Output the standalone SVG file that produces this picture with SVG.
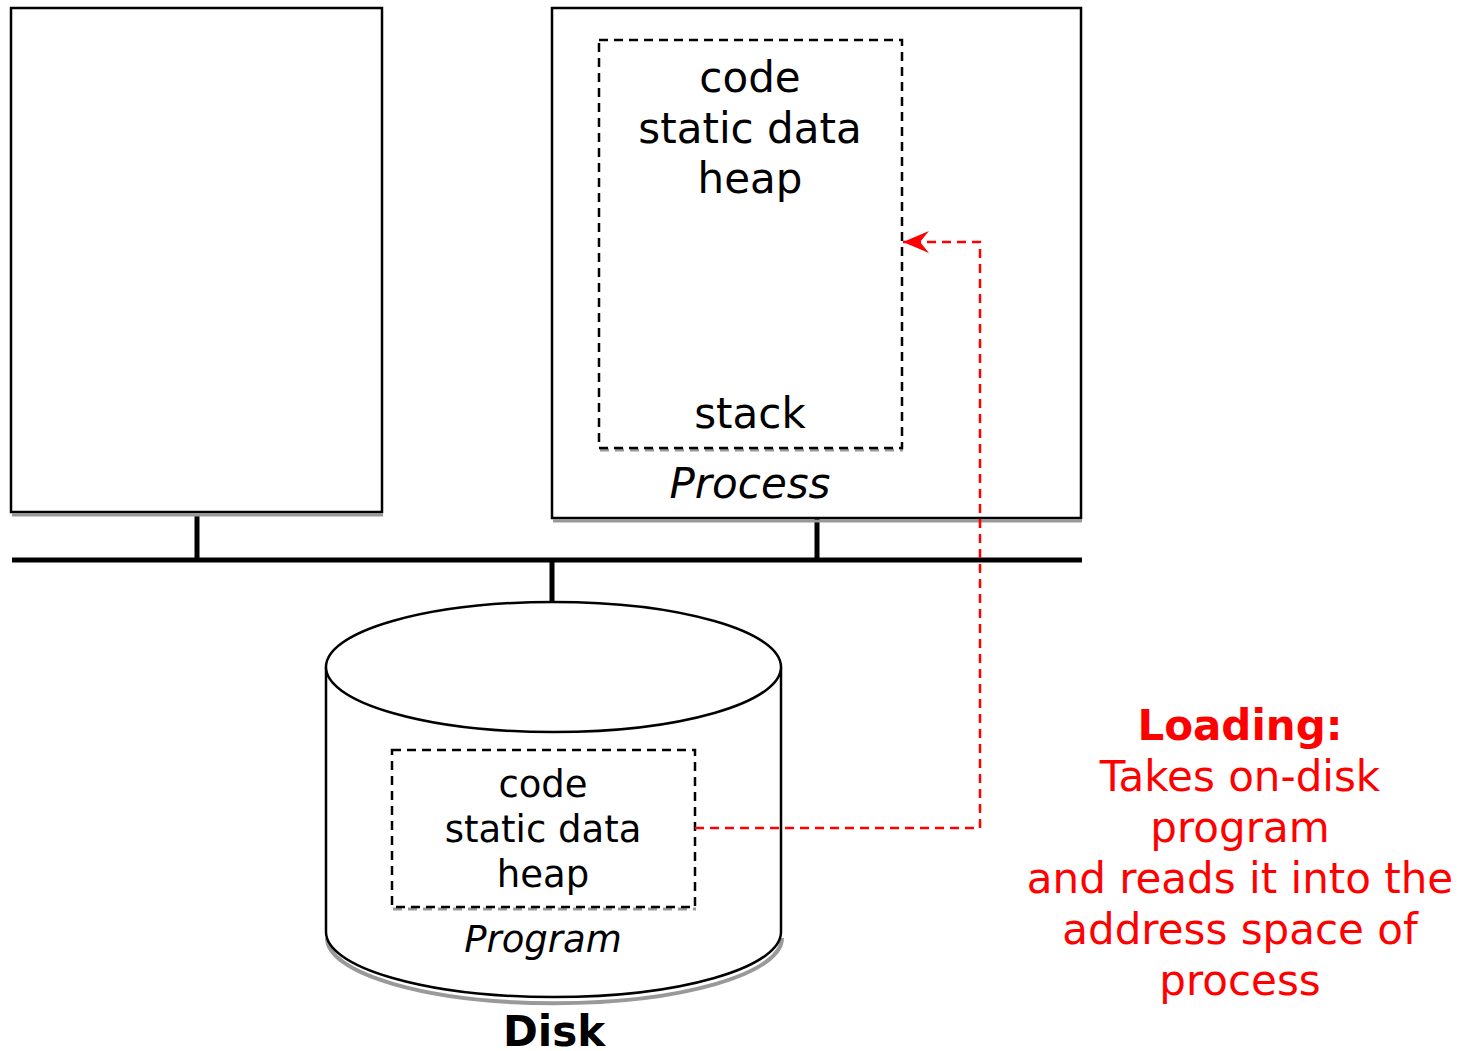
<svg xmlns="http://www.w3.org/2000/svg" width="1462" height="1051" viewBox="0 0 1462 1051">
<style>
.box{fill:#fff;stroke:#000;stroke-width:2.5}
.shadow{fill:none;stroke:#999;stroke-width:3}
.dash{fill:none;stroke:#000;stroke-width:2.5;stroke-dasharray:9 6}
.bus{stroke:#000;stroke-width:5;fill:none}
.t{font-family:"DejaVu Sans",sans-serif;text-anchor:middle;fill:#000}
.red{fill:#f00}
</style>
<defs>
<marker id="arr" viewBox="0 0 30 24" refX="28" refY="12" markerWidth="30" markerHeight="24" markerUnits="userSpaceOnUse" orient="auto">
<path d="M28,12 L2,1 L11,12 L2,23 Z" fill="#f00"/>
</marker>
</defs>
<rect width="1462" height="1051" fill="#fff"/>
<g id="bus">
<line class="bus" x1="12" y1="560" x2="1082" y2="560"/>
<line class="bus" x1="197" y1="514" x2="197" y2="558"/>
<line class="bus" x1="817" y1="519" x2="817" y2="558"/>
<line class="bus" x1="552" y1="560" x2="552" y2="602"/>
</g>
<g id="cpu-left">
<path class="shadow" d="M12,515 H383"/>
<rect class="box" x="11" y="8" width="371" height="504"/>
</g>
<g id="process">
<path class="shadow" d="M553,521 H1082"/>
<rect class="box" x="552" y="8" width="529" height="510"/>
<g id="process-mem">
<path class="shadow" d="M600,450 H903" stroke-dasharray="9 6"/>
<rect class="dash" x="599" y="40" width="303" height="408"/>
<text class="t" x="750" y="92" font-size="42">code</text>
<text class="t" x="750" y="143" font-size="42">static data</text>
<text class="t" x="750" y="193" font-size="42">heap</text>
<text class="t" x="750" y="428" font-size="42">stack</text>
</g>
<text class="t" x="750" y="498" font-size="42" font-style="italic">Process</text>
</g>
<g id="disk">
<path d="M327,935 A227,65 0 0 0 782,935" fill="none" stroke="#999" stroke-width="4" transform="translate(0,3)"/>
<path d="M326,667 V932 A227.5,65 0 0 0 781,932 V667" fill="#fff" stroke="#000" stroke-width="2.5"/>
<ellipse cx="553.5" cy="667" rx="227.5" ry="65" fill="#fff" stroke="#000" stroke-width="2.5"/>
<g id="program">
<path class="shadow" d="M393,909 H696" stroke-dasharray="9 6"/>
<rect class="dash" x="392" y="750" width="303" height="157"/>
<text class="t" x="543" y="797" font-size="37">code</text>
<text class="t" x="543" y="842" font-size="37">static data</text>
<text class="t" x="543" y="887" font-size="37">heap</text>
</g>
<text class="t" x="543" y="952" font-size="37" font-style="italic">Program</text>
<text class="t" x="554" y="1046" font-size="42" font-weight="bold">Disk</text>
</g>
<g id="connectors">
<path d="M695,828 H980 V242 H903" fill="none" stroke="#f00" stroke-width="2.5" stroke-dasharray="9 6" marker-end="url(#arr)"/>
</g>
<g id="loading-note">
<text class="t red" x="1240" y="740" font-size="42" font-weight="bold">Loading:</text>
<text class="t red" x="1240" y="791" font-size="42">Takes on-disk</text>
<text class="t red" x="1240" y="842" font-size="42">program</text>
<text class="t red" x="1240" y="893" font-size="42">and reads it into the</text>
<text class="t red" x="1240" y="944" font-size="42">address space of</text>
<text class="t red" x="1240" y="995" font-size="42">process</text>
</g>
</svg>
